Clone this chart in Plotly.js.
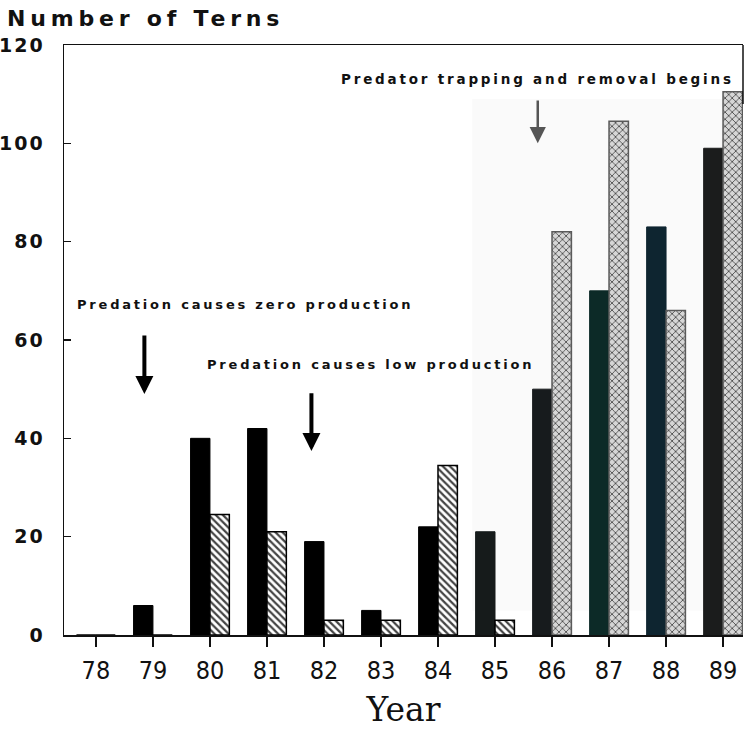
<!DOCTYPE html>
<html>
<head>
<meta charset="utf-8">
<script src="https://cdn.plot.ly/plotly-3.0.1.min.js"></script>
<style>
  html, body { margin: 0; padding: 0; background: #fff; }
  #chart { width: 751px; height: 731px; }
  .annotation-text { letter-spacing: 2.8px; }
  .gtitle { letter-spacing: 4.8px; }
  .ytick text { letter-spacing: 2px; }
</style>
</head>
<body>
<div id="chart"></div>
<script>
// ---- data ----
const years = [78, 79, 80, 81, 82, 83, 84, 85, 86, 87, 88, 89];
const yearLabels = ["78", "79", "80", "81", "82", "83", "84", "85", "86", "87", "88", "89"];
const blackValues = [0, 6, 40, 42, 19, 5, 22, 21, 50, 70, 83, 99];
const hatchedValues = [0, 0, 24.5, 21, 3, 3, 34.5, 3, 82, 104.5, 66, 110.5];
const yTicks = [0, 20, 40, 60, 80, 100, 120];

// per-bar styling (scan appearance)
const blackColors = ["#000", "#000", "#000", "#000", "#000", "#000", "#000",
                     "#161b1b", "#171b1d", "#0c2a27", "#0e2530", "#1b1c1c"];
const hatchShapes = ["\\", "\\", "\\", "\\", "\\", "\\", "\\", "\\", "x", "x", "x", "x"];
const hatchFg = ["#111111", "#111111", "#111111", "#111111", "#111111", "#111111", "#111111", "#111111",
                 "#8c8c8c", "#8c8c8c", "#8c8c8c", "#8c8c8c"];
const hatchBg = ["#ffffff", "#ffffff", "#ffffff", "#ffffff", "#ffffff", "#ffffff", "#ffffff", "#ffffff",
                 "#d6d6d6", "#d6d6d6", "#d6d6d6", "#d6d6d6"];
const hatchSolidity = [0.45, 0.45, 0.45, 0.45, 0.45, 0.45, 0.45, 0.45, 0.3, 0.3, 0.3, 0.3];
const hatchLine = ["#000", "#000", "#000", "#000", "#000", "#000", "#000", "#000",
                   "#5a5a5a", "#5a5a5a", "#5a5a5a", "#5a5a5a"];

const traces = [
  {
    type: "bar", x: years, y: blackValues, name: "black",
    marker: { color: blackColors, line: { color: blackColors, width: 1 } },
    hoverinfo: "x+y"
  },
  {
    type: "bar", x: years, y: hatchedValues, name: "hatched",
    marker: {
      color: hatchBg,
      line: { color: hatchLine, width: 1.5 },
      pattern: { shape: hatchShapes, fgcolor: hatchFg, fgopacity: 1,
                 fillmode: "overlay", size: 5, solidity: hatchSolidity }
    },
    hoverinfo: "x+y"
  }
];

const annFont = { family: "DejaVu Sans", size: 13, color: "#111", weight: "bold" };

const layout = {
  width: 751, height: 731,
  margin: { l: 64, r: 8, t: 45, b: 96 },
  paper_bgcolor: "#fff", plot_bgcolor: "rgba(0,0,0,0)",
  showlegend: false,
  barmode: "group", bargap: 0.32, bargroupgap: 0,
  title: {
    text: "Number of Terns",
    x: 7 / 751, xref: "container", xanchor: "left",
    y: 1 - 18 / 731, yref: "container", yanchor: "middle",
    font: { family: "DejaVu Sans", size: 22, color: "#111", weight: "bold" }
  },
  xaxis: {
    range: [77.44, 89.35],
    tickvals: years, ticktext: yearLabels,
    ticks: "outside", ticklen: 10, tickwidth: 1.2, tickcolor: "#111",
    showline: true, linecolor: "#111", linewidth: 1.5, mirror: true,
    showgrid: false, zeroline: false,
    tickfont: { family: "DejaVu Sans Condensed, Liberation Sans Narrow, DejaVu Sans, sans-serif", size: 25, color: "#111" },
    ticklabelstandoff: 2,
    title: { text: "Year", standoff: 14,
      font: { family: "DejaVu Serif", size: 33, color: "#111" } }
  },
  yaxis: {
    range: [0, 120],
    tickvals: yTicks,
    ticks: "inside", ticklen: 7, tickwidth: 1.2, tickcolor: "#111",
    showline: true, linecolor: "#111", linewidth: 1.5,
    showgrid: false, zeroline: false,
    tickfont: { family: "DejaVu Sans", size: 19, color: "#111", weight: "bold" },
    ticklabelstandoff: 14
  },
  shapes: [
    { type: "rect", layer: "below", xref: "x", yref: "y",
      x0: 84.6, x1: 89.35, y0: 5, y1: 109, fillcolor: "#fafafa", line: { width: 0 } },
    { type: "line", xref: "paper", yref: "y", x0: 1, x1: 1, y0: 108, y1: 120,
      line: { color: "#111", width: 1.5 } }
  ],
  annotations: [
    { text: "Predation causes zero production", xref: "x", yref: "y",
      x: 77.63, y: 67.3, xanchor: "left", yanchor: "middle", showarrow: false, font: annFont },
    { text: "Predation causes low production", xref: "x", yref: "y",
      x: 79.92, y: 55, xanchor: "left", yanchor: "middle", showarrow: false, font: annFont },
    { text: "Predator trapping and removal begins", xref: "x", yref: "y",
      x: 82.26, y: 113.1, xanchor: "left", yanchor: "middle", showarrow: false,
      font: { family: "DejaVu Sans", size: 13.5, color: "#111", weight: "bold" } },
    { text: "", xref: "x", yref: "y", x: 78.85, y: 49, axref: "x", ayref: "y", ax: 78.85, ay: 61.2,
      showarrow: true, arrowhead: 2, arrowsize: 0.9, arrowwidth: 4, arrowcolor: "#000" },
    { text: "", xref: "x", yref: "y", x: 81.78, y: 37.4, axref: "x", ayref: "y", ax: 81.78, ay: 49.5,
      showarrow: true, arrowhead: 2, arrowsize: 0.9, arrowwidth: 4, arrowcolor: "#000" },
    { text: "", xref: "x", yref: "y", x: 85.75, y: 100, axref: "x", ayref: "y", ax: 85.75, ay: 109,
      showarrow: true, arrowhead: 2, arrowsize: 1.3, arrowwidth: 2.5, arrowcolor: "#555" }
  ]
};

Plotly.newPlot("chart", traces, layout, { displayModeBar: false, staticPlot: true });
</script>
</body>
</html>
